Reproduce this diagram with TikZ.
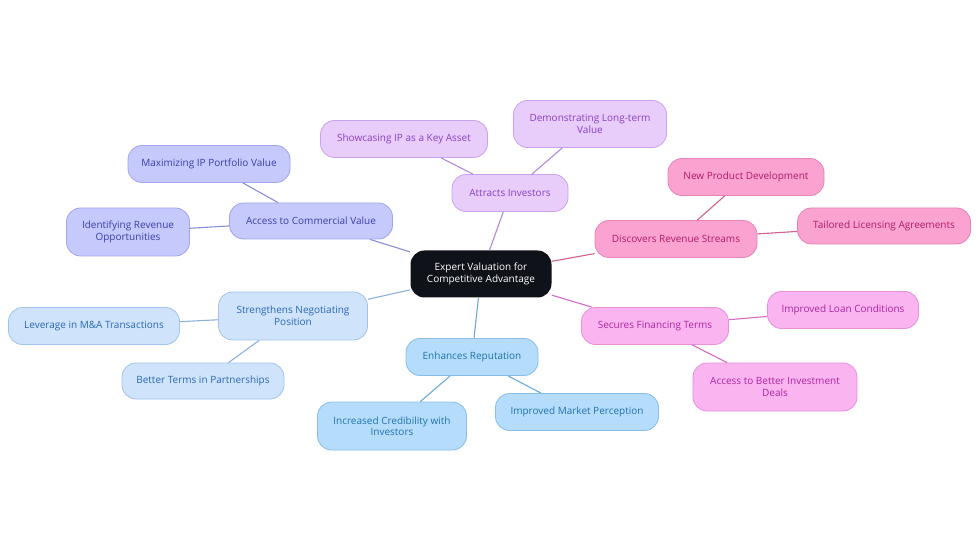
\documentclass[tikz,border=0pt]{standalone}
\usepackage{fontspec}
\setmainfont{Open Sans}
\begin{document}
\begin{tikzpicture}[x=1pt,y=-1pt,
  box/.style={rounded corners=14pt, line width=0.8pt, align=center, inner sep=0pt, font=\fontsize{10}{11.5}\selectfont},
  cA/.style={box, fill=cAf, draw=cAd, text=cAt},
  cB/.style={box, fill=cBf, draw=cBd, text=cBt},
  cC/.style={box, fill=cCf, draw=cCd, text=cCt},
  cD/.style={box, fill=cDf, draw=cDd, text=cDt},
  cE/.style={box, fill=cEf, draw=cEd, text=cEt},
  cF/.style={box, fill=cFf, draw=cFd, text=cFt},
  eA/.style={draw=cAl, line width=1.1pt},
  eB/.style={draw=cBl, line width=1.1pt},
  eC/.style={draw=cCl, line width=1.1pt},
  eD/.style={draw=cDl, line width=1.1pt},
  eE/.style={draw=cEl, line width=1.1pt},
  eF/.style={draw=cFl, line width=1.1pt},
  ]
\definecolor{cAf}{HTML}{C6C9FB}\definecolor{cAd}{HTML}{A0A5EE}\definecolor{cAt}{HTML}{3A3FA6}\definecolor{cAl}{HTML}{8A8FDB}
\definecolor{cBf}{HTML}{E8CDFB}\definecolor{cBd}{HTML}{C9A2EE}\definecolor{cBt}{HTML}{8A40C0}\definecolor{cBl}{HTML}{B189E0}
\definecolor{cCf}{HTML}{FAA3D0}\definecolor{cCd}{HTML}{E682B7}\definecolor{cCt}{HTML}{B01A6C}\definecolor{cCl}{HTML}{D1608F}
\definecolor{cDf}{HTML}{FAB4F0}\definecolor{cDd}{HTML}{E790DC}\definecolor{cDt}{HTML}{AE25A0}\definecolor{cDl}{HTML}{D46BC6}
\definecolor{cEf}{HTML}{CFE3FB}\definecolor{cEd}{HTML}{A0C4EC}\definecolor{cEt}{HTML}{2A68B6}\definecolor{cEl}{HTML}{8DB0DC}
\definecolor{cFf}{HTML}{B6DCFB}\definecolor{cFd}{HTML}{88BEE8}\definecolor{cFt}{HTML}{1E73AE}\definecolor{cFl}{HTML}{6CAAD8}
\definecolor{cCen}{HTML}{10121A}
\useasboundingbox (0,0) rectangle (980,553);
\fill[white] (0,0) rectangle (980,553);
% center
\node[box, fill=cCen, draw=none, text=white, minimum width=141pt, minimum height=47pt] (c) at (481,274) {Expert Valuation for\\Competitive Advantage};
% branch A
\node[cA, minimum width=163pt, minimum height=36pt] (a) at (311,221) {Access to Commercial Value};
\node[cA, minimum width=162pt, minimum height=37pt] (a1) at (209,164) {Maximizing IP Portfolio Value};
\node[cA, minimum width=123pt, minimum height=48pt] (a2) at (128,232) {Identifying Revenue\\Opportunities};
% branch B
\node[cB, minimum width=116pt, minimum height=37pt] (b) at (510,193) {Attracts Investors};
\node[cB, minimum width=167pt, minimum height=37pt] (b1) at (404,139) {Showcasing IP as a Key Asset};
\node[cB, minimum width=153pt, minimum height=47pt] (b2) at (590,124) {Demonstrating Long-term\\Value};
% branch C
\node[cC, minimum width=162pt, minimum height=37pt] (d) at (676,239) {Discovers Revenue Streams};
\node[cC, minimum width=156pt, minimum height=37pt] (d1) at (746,177) {New Product Development};
\node[cC, minimum width=173pt, minimum height=36pt] (d2) at (884,226) {Tailored Licensing Agreements};
% branch D
\node[cD, minimum width=147pt, minimum height=37pt] (s) at (655,326) {Secures Financing Terms};
\node[cD, minimum width=151pt, minimum height=37pt] (s1) at (843,310) {Improved Loan Conditions};
\node[cD, minimum width=164pt, minimum height=48pt] (s2) at (775,387) {Access to Better Investment\\Deals};
% branch E
\node[cE, minimum width=149pt, minimum height=48pt] (n) at (293,316) {Strengthens Negotiating\\Position};
\node[cE, minimum width=171pt, minimum height=37pt] (n1) at (94,326) {Leverage in M\&A Transactions};
\node[cE, minimum width=162pt, minimum height=36pt] (n2) at (203,381) {Better Terms in Partnerships};
% branch F
\node[cF, minimum width=132pt, minimum height=37pt] (r) at (472,357) {Enhances Reputation};
\node[cF, minimum width=149pt, minimum height=48pt] (r1) at (392,426) {Increased Credibility with\\Investors};
\node[cF, minimum width=163pt, minimum height=37pt] (r2) at (577,412) {Improved Market Perception};
% edges
\draw[eA] (c) -- (a); \draw[eA] (a) -- (a1); \draw[eA] (a) -- (a2);
\draw[eB] (c) -- (b); \draw[eB] (b) -- (b1); \draw[eB] (b) -- (b2);
\draw[eC] (c) -- (d); \draw[eC] (d) -- (d1); \draw[eC] (d) -- (d2);
\draw[eD] (c) -- (s); \draw[eD] (s) -- (s1); \draw[eD] (s) -- (s2);
\draw[eE] (c) -- (n); \draw[eE] (n) -- (n1); \draw[eE] (n) -- (n2);
\draw[eF] (c) -- (r); \draw[eF] (r) -- (r1); \draw[eF] (r) -- (r2);
\end{tikzpicture}
\end{document}
